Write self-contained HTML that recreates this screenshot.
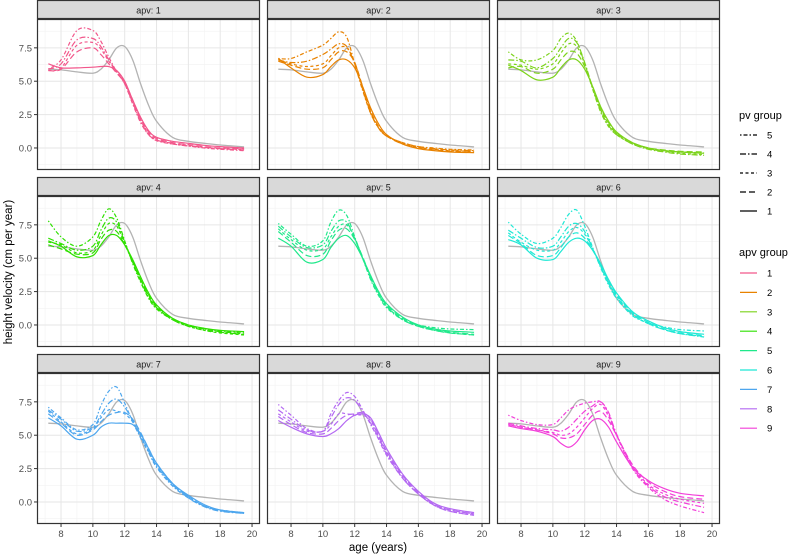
<!DOCTYPE html>
<html><head><meta charset="utf-8"><style>
html,body{margin:0;padding:0;background:#fff;}
svg{display:block;font-family:"Liberation Sans",sans-serif;}
</style></head><body>
<svg id="chart" width="800" height="555" viewBox="0 0 800 555"></svg>
<script>
const ages=[7.2,8,9,10,10.5,11,11.5,12,12.5,13,13.5,14,15,16,17,18,19.5];
const refCurve=[5.9,5.85,5.7,5.6,5.9,6.6,7.5,7.6,6.6,4.8,3.2,2.0,0.8,0.5,0.35,0.22,0.08];
const apv1=[[6.3,6.0,6.0,6.05,6.1,6.1,5.8,5.0,3.6,2.3,1.3,0.8,0.5,0.35,0.2,0.1,0.0],[5.8,5.9,7.2,7.5,7.0,6.3,5.6,4.9,3.6,2.2,1.2,0.7,0.4,0.25,0.1,0,-0.05],[5.8,6.0,7.7,7.9,7.4,6.5,5.7,4.9,3.5,2.1,1.1,0.6,0.35,0.2,0.05,-0.05,-0.1],[5.9,6.3,8.1,8.2,7.6,6.6,5.7,4.8,3.4,2.0,1.0,0.6,0.3,0.15,0.05,-0.05,-0.15],[5.9,6.6,8.8,8.8,8.0,6.8,5.7,4.8,3.3,1.9,1.0,0.55,0.3,0.15,0.0,-0.1,-0.2]];
const apv2=[[6.7,6.0,5.3,5.5,6.1,6.6,6.6,6.0,4.6,3.0,1.8,1.0,0.3,-0.05,-0.2,-0.3,-0.35],[6.5,6.2,5.9,6.0,6.6,7.2,7.2,6.4,4.6,2.8,1.6,0.9,0.3,0.0,-0.15,-0.25,-0.3],[6.6,6.3,6.1,6.3,6.9,7.5,7.5,6.4,4.5,2.7,1.5,0.9,0.35,0.05,-0.1,-0.2,-0.25],[6.6,6.4,6.5,7.0,7.4,7.8,7.6,6.3,4.4,2.6,1.5,0.9,0.4,0.1,-0.05,-0.15,-0.2],[6.7,6.7,7.2,7.7,8.2,8.7,8.3,6.3,4.3,2.6,1.5,0.9,0.4,0.1,0.0,-0.1,-0.15]];
const apv3=[[6.2,5.8,5.1,5.3,6.0,6.6,6.6,5.9,4.6,3.1,2.0,1.2,0.4,0.0,-0.2,-0.3,-0.4],[6.0,6.1,5.6,5.9,6.6,7.2,7.1,6.1,4.6,3.0,1.9,1.1,0.4,0.0,-0.15,-0.25,-0.3],[6.3,6.2,5.9,6.3,7.1,7.8,7.6,6.3,4.5,2.9,1.8,1.1,0.35,-0.05,-0.25,-0.4,-0.5],[6.6,6.5,6.0,6.7,7.5,8.2,7.9,6.4,4.5,2.8,1.7,1.0,0.3,-0.1,-0.3,-0.45,-0.55],[7.2,6.6,6.6,7.3,8.2,8.6,8.0,6.3,4.4,2.7,1.6,1.0,0.3,-0.05,-0.2,-0.3,-0.35]];
const apv4=[[6.3,5.9,5.1,5.2,6.0,6.7,6.7,6.0,4.9,3.6,2.4,1.5,0.5,0.0,-0.25,-0.4,-0.5],[6.0,5.7,5.3,5.4,6.4,7.1,7.0,6.0,4.8,3.4,2.3,1.4,0.5,0.0,-0.3,-0.5,-0.65],[6.2,6.0,5.4,5.6,6.7,7.6,7.4,6.1,4.7,3.4,2.2,1.3,0.4,-0.1,-0.4,-0.6,-0.75],[6.5,6.1,5.6,5.9,7.1,8.0,7.7,6.2,4.7,3.3,2.1,1.3,0.4,-0.1,-0.4,-0.55,-0.7],[7.8,6.6,5.9,6.6,7.8,8.7,8.0,6.3,4.6,3.2,2.0,1.2,0.4,-0.05,-0.3,-0.45,-0.55]];
const apv5=[[6.5,5.9,4.7,4.9,5.8,6.5,6.7,6.1,5.0,3.7,2.5,1.6,0.6,0.0,-0.3,-0.45,-0.55],[7.0,6.2,5.2,5.3,6.3,7.1,7.2,6.4,5.1,3.6,2.4,1.5,0.5,-0.05,-0.35,-0.55,-0.7],[7.2,6.4,5.6,5.7,6.6,7.4,7.5,6.5,5.0,3.5,2.3,1.4,0.4,-0.1,-0.4,-0.6,-0.75],[7.4,6.6,5.8,6.0,7.0,7.8,7.7,6.5,5.0,3.5,2.3,1.4,0.4,-0.1,-0.4,-0.6,-0.75],[7.6,6.8,5.9,6.3,7.7,8.6,8.2,6.6,5.0,3.4,2.2,1.3,0.4,0.0,-0.2,-0.3,-0.35]];
const apv6=[[6.4,6.0,5.0,4.9,5.5,6.2,6.5,6.3,5.6,4.6,3.4,2.4,1.0,0.3,-0.2,-0.5,-0.7],[6.7,6.1,5.2,5.2,5.8,6.6,6.9,6.5,5.6,4.5,3.3,2.3,0.9,0.2,-0.3,-0.6,-0.8],[6.9,6.2,5.6,5.6,6.2,7.0,7.3,6.8,5.7,4.4,3.2,2.2,0.8,0.1,-0.35,-0.65,-0.85],[7.1,6.5,5.8,5.9,6.6,7.4,7.6,7.0,5.7,4.4,3.1,2.1,0.8,0.1,-0.35,-0.65,-0.9],[7.7,6.8,6.1,6.5,7.3,8.3,8.6,7.4,5.8,4.3,3.0,2.0,0.7,0.15,-0.15,-0.35,-0.45]];
const apv7=[[6.3,5.7,4.7,5.0,5.6,5.9,5.9,5.9,5.8,5.1,4.0,2.9,1.4,0.5,-0.2,-0.6,-0.8],[6.6,5.9,5.0,5.4,6.0,6.5,6.7,6.7,6.2,5.2,4.0,2.9,1.4,0.4,-0.3,-0.65,-0.85],[6.8,6.0,5.1,5.5,6.3,6.9,6.8,6.6,6.0,5.0,3.8,2.8,1.3,0.4,-0.3,-0.6,-0.8],[6.9,6.2,5.3,5.6,6.5,7.4,7.7,7.1,6.1,4.9,3.8,2.7,1.3,0.3,-0.35,-0.7,-0.85],[7.1,6.3,5.4,5.8,7.2,8.3,8.6,7.4,6.0,4.8,3.7,2.6,1.2,0.3,-0.3,-0.65,-0.8]];
const apv8=[[6.1,5.6,5.1,4.9,5.1,5.5,6.1,6.5,6.6,6.3,5.2,4.0,2.1,0.8,-0.1,-0.5,-0.8],[6.4,5.8,5.2,5.1,5.5,6.1,6.5,6.6,6.7,6.2,5.0,3.8,2.0,0.7,-0.2,-0.6,-0.9],[6.6,6.0,5.3,5.3,5.8,6.6,6.6,6.5,6.5,6.1,4.9,3.7,1.9,0.6,-0.25,-0.7,-1.0],[6.9,6.2,5.4,5.3,6.3,7.3,7.8,7.6,6.8,5.9,4.8,3.6,1.8,0.6,-0.25,-0.7,-1.0],[7.3,6.5,5.5,5.3,6.6,7.6,8.2,7.9,6.9,5.8,4.7,3.5,1.8,0.6,-0.2,-0.6,-0.9]];
const apv9=[[5.7,5.5,5.3,4.9,4.4,4.1,4.5,5.4,6.1,6.2,5.6,4.5,2.6,1.6,1.0,0.65,0.45],[5.8,5.6,5.4,5.1,4.8,4.8,5.1,5.8,6.5,6.8,6.1,5.0,2.8,1.5,0.8,0.4,0.2],[5.8,5.6,5.4,5.2,5.0,5.1,5.6,6.3,7.0,7.3,6.4,5.0,2.7,1.3,0.6,0.2,-0.1],[5.9,5.7,5.5,5.4,5.3,5.6,6.2,6.8,7.2,7.5,6.7,5.1,2.6,1.2,0.4,0.0,-0.4],[6.5,6.1,5.8,5.8,6.3,6.9,7.2,7.4,7.5,7.5,6.6,5.0,2.5,1.1,0.2,-0.3,-0.8]];
const panels=[apv1,apv2,apv3,apv4,apv5,apv6,apv7,apv8,apv9];
const apvLabels=["1","2","3","4","5","6","7","8","9"];
const pvLabels=["1","2","3","4","5"];
const xTicks=[8,10,12,14,16,18,20];
const yTicks=[0,2.5,5,7.5];
const yTickLabels=["0.0","2.5","5.0","7.5"];

const colors=["#F2578B","#E88200","#7CD31C","#2FE000","#1FE88A","#1FE8D5","#4DA6EE","#B469F2","#F23FD9"];
const dashes=["","6,3","3,2.5","6,2,1.5,2","1.5,2,4,2"];
const NS="http://www.w3.org/2000/svg";
const svg=document.getElementById('chart');
function mk(tag,attrs,parent){const e=document.createElementNS(NS,tag);for(const k in attrs)e.setAttribute(k,attrs[k]);(parent||svg).appendChild(e);return e;}
const colX=[37,267,497],PW=223,rowTop=[0,177,354],STRIP=19,PH=151;
const xMin=6.49,xMax=20.5,yMin=-1.65,yMax=9.66;
function sx(c,v){return colX[c]+(v-xMin)/(xMax-xMin)*PW;}
function sy(r,v){const t=rowTop[r]+STRIP;return t+PH-(v-yMin)/(yMax-yMin)*PH;}
function pathFor(c,r,vals){
  const p=ages.map((a,i)=>[sx(c,a),sy(r,vals[i])]);
  let d="M"+p[0][0].toFixed(2)+","+p[0][1].toFixed(2);
  for(let i=0;i<p.length-1;i++){
    const p0=p[Math.max(0,i-1)],p1=p[i],p2=p[i+1],p3=p[Math.min(p.length-1,i+2)];
    const c1=[p1[0]+(p2[0]-p0[0])/6,p1[1]+(p2[1]-p0[1])/6];
    const c2=[p2[0]-(p3[0]-p1[0])/6,p2[1]-(p3[1]-p1[1])/6];
    d+="C"+c1[0].toFixed(2)+","+c1[1].toFixed(2)+" "+c2[0].toFixed(2)+","+c2[1].toFixed(2)+" "+p2[0].toFixed(2)+","+p2[1].toFixed(2);
  }
  return d;
}
panels.forEach((series,k)=>{
  const c=k%3,r=Math.floor(k/3);
  const g=mk('g',{});
  
  
  const top=rowTop[r]+STRIP;
  mk('rect',{x:colX[c],y:top,width:PW,height:PH,fill:'#fff'},g);
  for(let v=7;v<=20;v+=2){mk('line',{x1:sx(c,v),x2:sx(c,v),y1:top,y2:top+PH,stroke:'#F2F2F2','stroke-width':0.6},g);}
  [-1.25,1.25,3.75,6.25,8.75].forEach(v=>mk('line',{x1:colX[c],x2:colX[c]+PW,y1:sy(r,v),y2:sy(r,v),stroke:'#F2F2F2','stroke-width':0.6},g));
  xTicks.forEach(v=>mk('line',{x1:sx(c,v),x2:sx(c,v),y1:top,y2:top+PH,stroke:'#E6E6E6','stroke-width':1},g));
  yTicks.forEach(v=>mk('line',{x1:colX[c],x2:colX[c]+PW,y1:sy(r,v),y2:sy(r,v),stroke:'#E6E6E6','stroke-width':1},g));
  const ref=mk('path',{d:pathFor(c,r,refCurve),fill:'none',stroke:'#B3B3B3','stroke-width':1.3},g);
  
  
  series.forEach((vals,j)=>{
    const p=mk('path',{d:pathFor(c,r,vals),fill:'none',stroke:colors[k],'stroke-width':1.2,'stroke-dasharray':dashes[j]},g);
    
    
  });
  mk('rect',{x:colX[c]+0.5,y:top+0.5,width:PW-1,height:PH-1,fill:'none',stroke:'#333','stroke-width':1.2},g);
  const st=mk('rect',{x:colX[c]+0.5,y:rowTop[r]+0.5,width:PW-1,height:STRIP-1,fill:'#D9D9D9',stroke:'#333','stroke-width':1.2},g);
  
  
  const tt=mk('text',{x:colX[c]+PW/2,y:rowTop[r]+13.5,'text-anchor':'middle','font-size':9,fill:'#1A1A1A'},g);
  tt.textContent='apv: '+apvLabels[k];
  if(c===0){yTicks.forEach((v,i)=>{mk('line',{x1:colX[c]-3,x2:colX[c],y1:sy(r,v),y2:sy(r,v),stroke:'#333'},g);
    const t=mk('text',{x:colX[c]-5,y:sy(r,v)+3.5,'text-anchor':'end','font-size':9.5,fill:'#4D4D4D'},g);t.textContent=yTickLabels[i];});}
  if(r===2){xTicks.forEach(v=>{mk('line',{x1:sx(c,v),x2:sx(c,v),y1:top+PH,y2:top+PH+3,stroke:'#333'},g);
    const t=mk('text',{x:sx(c,v),y:top+PH+13,'text-anchor':'middle','font-size':9.5,fill:'#4D4D4D'},g);t.textContent=v;});}
});
const xt=mk('text',{x:378,y:551,'text-anchor':'middle','font-size':11.5,fill:'#000'});
xt.textContent='age (years)';


const yt=mk('text',{x:12,y:272,'text-anchor':'middle','font-size':11.5,fill:'#000',transform:'rotate(-90 12 272)'});
yt.textContent='height velocity (cm per year)';


// legends
const t1=mk('text',{x:739,y:119,'font-size':11,fill:'#000'});t1.textContent='pv group';


[4,3,2,1,0].forEach((j,i)=>{const y=135+i*19;
  const g=mk('g',{});
  
  
  mk('line',{x1:740,x2:757,y1:y,y2:y,stroke:'#000','stroke-width':1.2,'stroke-dasharray':dashes[j]},g);
  const t=mk('text',{x:767,y:y+3.5,'font-size':9.5,fill:'#000'},g);t.textContent=pvLabels[j];});
const t2=mk('text',{x:739,y:256,'font-size':11,fill:'#000'});t2.textContent='apv group';


apvLabels.forEach((l,i)=>{const y=273+i*19.4;
  const g=mk('g',{});
  
  
  mk('line',{x1:740,x2:757,y1:y,y2:y,stroke:colors[i],'stroke-width':1.2},g);
  const t=mk('text',{x:767,y:y+3.5,'font-size':9.5,fill:'#000'},g);t.textContent=l;});
</script>
</body></html>
